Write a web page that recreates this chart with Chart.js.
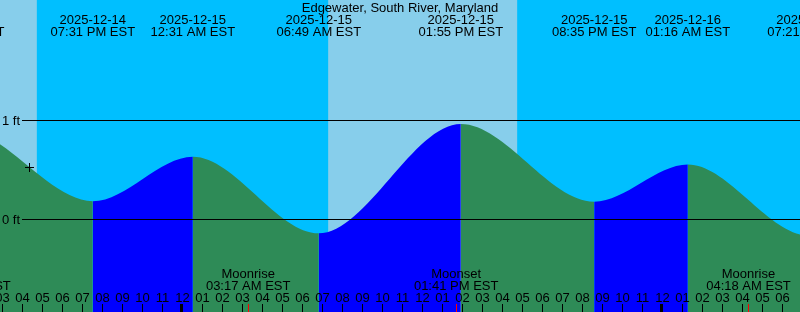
<!DOCTYPE html>
<html>
<head>
<meta charset="utf-8">
<script src="https://cdn.jsdelivr.net/npm/chart.js@4"></script>
<style>
  html, body { margin: 0; padding: 0; background: #00BFFF; }
  canvas { display: block; }
</style>
</head>
<body>
<canvas id="tideChart" width="800" height="312"></canvas>
<script>
var stationName = 'Edgewater, South River, Maryland';

// tide highs/lows, EST (first and last are off the chart, estimated)
var tideTimes = ['2025-12-14 06:10 AM', '2025-12-14 12:59 PM', '2025-12-14 07:31 PM', '2025-12-15 12:31 AM',
  '2025-12-15 06:49 AM', '2025-12-15 01:55 PM', '2025-12-15 08:35 PM', '2025-12-16 01:16 AM',
  '2025-12-16 07:21 AM', '2025-12-16 02:40 PM'];
var tideLevels = [-0.12, 0.90, 0.18, 0.63, -0.145, 0.96, 0.175, 0.55, -0.17, 0.95];

var sunTimes = ['2025-12-14 04:43 PM', '2025-12-15 07:17 AM', '2025-12-15 04:44 PM', '2025-12-16 07:17 AM'];
var sunEvents = ['Sunset', 'Sunrise', 'Sunset', 'Sunrise'];

var moonTimes = ['2025-12-14 01:18 PM', '2025-12-15 03:17 AM', '2025-12-15 01:41 PM', '2025-12-16 04:18 AM'];
var moonEvents = ['Moonset', 'Moonrise', 'Moonset', 'Moonrise'];

var levelTicks = [0, 1];
var nowTime = '2025-12-14 04:22 PM';

var dayColor = '#87CEEB', nightColor = '#00BFFF';
var riseColor = '#0000FF', fallColor = '#2E8B57';
var font = '13px "Liberation Sans", Arial, sans-serif';

// hours after 2025-12-15 00:00
function toHours(s) {
  var m = s.match(/^(\d+)-(\d+)-(\d+) (\d+):(\d+) (AM|PM)$/);
  var h = (+m[4]) % 12 + (m[6] === 'PM' ? 12 : 0);
  return (+m[3] - 15) * 24 + h + (+m[5]) / 60;
}

var points = tideTimes.map(function(t, i) { return {x: toHours(t), y: tideLevels[i]}; });

var tidePlot = {
  id: 'tidePlot',
  beforeDatasetsDraw: function(chart) {
    var ctx = chart.ctx, xs = chart.scales.x, a = chart.chartArea;
    ctx.save();
    ctx.fillStyle = nightColor;
    ctx.fillRect(a.left, a.top, a.width, a.height);
    ctx.fillStyle = dayColor;
    var isDay = sunEvents[0] === 'Sunset';
    var from = xs.min;
    for (var i = 0; i <= sunTimes.length; i++) {
      var to = i < sunTimes.length ? toHours(sunTimes[i]) : xs.max;
      if (isDay) {
        var p0 = xs.getPixelForValue(Math.max(from, xs.min));
        var p1 = xs.getPixelForValue(Math.min(to, xs.max));
        if (p1 > p0) ctx.fillRect(p0, a.top, p1 - p0, a.height);
      }
      from = to;
      isDay = !isDay;
    }
    ctx.restore();
  },
  afterDatasetsDraw: function(chart) {
    var ctx = chart.ctx, xs = chart.scales.x, ys = chart.scales.y, a = chart.chartArea;
    ctx.save();
    ctx.font = font;
    ctx.fillStyle = '#000';
    ctx.textBaseline = 'alphabetic';

    // level lines
    levelTicks.forEach(function(v) {
      var y = Math.round(ys.getPixelForValue(v));
      ctx.fillRect(22, y, a.right - 22, 1);
      ctx.textAlign = 'left';
      ctx.fillText(v + ' ft', 2, y + 5);
    });

    // title
    ctx.textAlign = 'center';
    ctx.fillText(stationName, 400, 12);

    // tide event labels
    tideTimes.forEach(function(t) {
      var px = xs.getPixelForValue(toHours(t));
      if (px < -100 || px > a.right + 100) return;
      ctx.fillText(t.slice(0, 10), px, 24);
      ctx.fillText(t.slice(11) + ' EST', px, 36);
    });

    // moon event labels
    moonTimes.forEach(function(t, i) {
      var px = xs.getPixelForValue(toHours(t));
      ctx.fillText(moonEvents[i], px, 278);
      ctx.fillText(t.slice(11) + ' EST', px, 290);
    });

    // hour ticks
    for (var h = Math.ceil(xs.min); h <= Math.floor(xs.max); h++) {
      var px = xs.getPixelForValue(h);
      var col = Math.floor(px);
      var h12 = ((h % 12) + 12) % 12 || 12;
      ctx.fillStyle = '#000';
      ctx.fillText((h12 < 10 ? '0' : '') + h12, px, 302);
      if (((h % 24) + 24) % 24 === 0) ctx.fillRect(col - 2, 304, 3, 8);
      else ctx.fillRect(col, 304, 1, 8);
    }
    ctx.fillStyle = '#FF0000';
    moonTimes.forEach(function(t) {
      var col = Math.floor(xs.getPixelForValue(toHours(t)));
      ctx.fillRect(col, 304, 1, 8);
    });

    // current time marker on the curve
    var line = chart.getDatasetMeta(0).dataset;
    var nx = xs.getPixelForValue(toHours(nowTime));
    var pt = line.interpolate({x: nx}, 'x');
    if (pt) {
      var cx = Math.floor(nx), cy = Math.floor(pt.y);
      ctx.fillStyle = '#000';
      ctx.fillRect(cx - 4, cy, 9, 1);
      ctx.fillRect(cx, cy - 4, 1, 9);
    }
    ctx.restore();
  }
};

var tideChart = new Chart('tideChart', {
  type: 'line',
  data: {
    datasets: [{
      data: points,
      fill: 'start',
      borderColor: 'rgba(0,0,0,0)',
      borderWidth: 0,
      pointRadius: 0,
      cubicInterpolationMode: 'monotone',
      capBezierPoints: false,
      backgroundColor: fallColor,
      segment: {
        backgroundColor: function(c) { return c.p1.parsed.y > c.p0.parsed.y ? riseColor : fallColor; }
      }
    }]
  },
  options: {
    responsive: false,
    animation: false,
    devicePixelRatio: 1,
    layout: { padding: 0 },
    scales: {
      x: { type: 'linear', display: false, min: -9.125, max: 30.875 },
      y: { display: false, min: -0.9394, max: 2.2121 }
    },
    plugins: {
      legend: { display: false },
      tooltip: { enabled: false }
    },
    events: []
  },
  plugins: [tidePlot]
});
</script>
</body>
</html>
